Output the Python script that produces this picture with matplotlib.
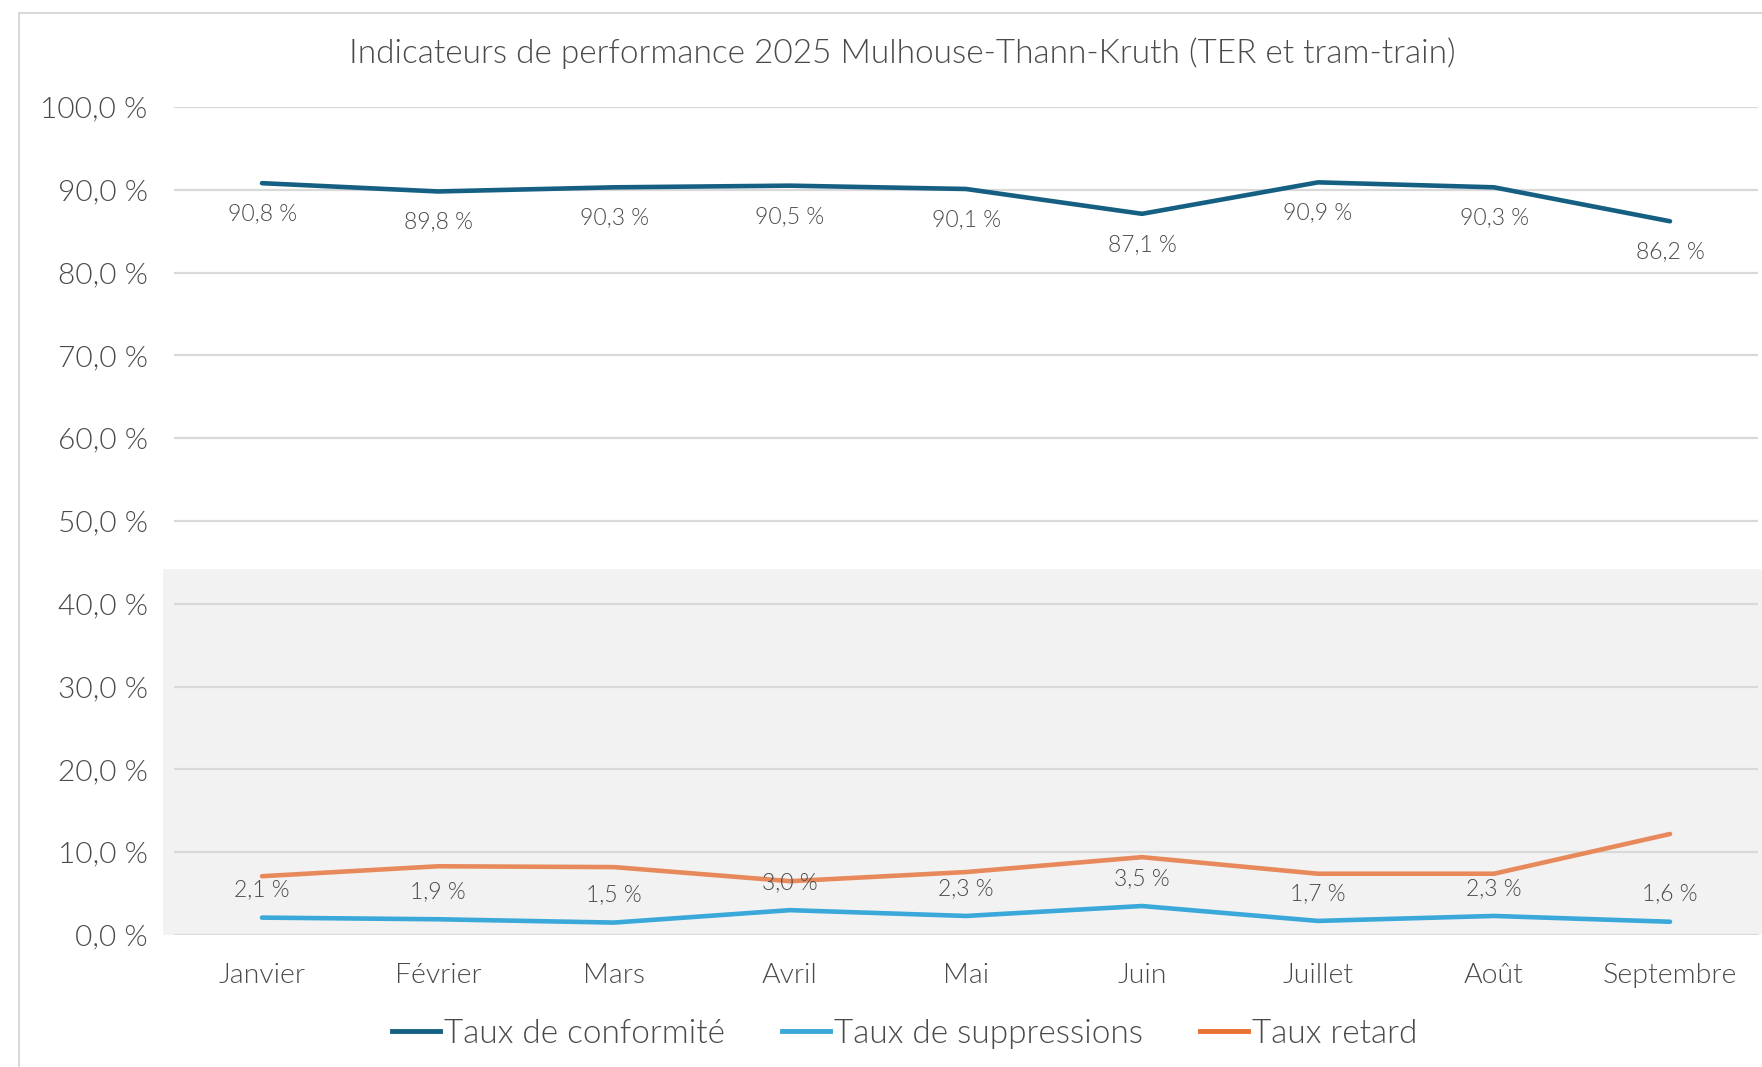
import matplotlib.pyplot as plt
from matplotlib.patches import Rectangle
from matplotlib.lines import Line2D

# Données
mois = ["Janvier", "Février", "Mars", "Avril", "Mai", "Juin", "Juillet", "Août", "Septembre"]
conformite = [90.8, 89.8, 90.3, 90.5, 90.1, 87.1, 90.9, 90.3, 86.2]
suppressions = [2.1, 1.9, 1.5, 3.0, 2.3, 3.5, 1.7, 2.3, 1.6]
retard = [7.1, 8.3, 8.2, 6.5, 7.6, 9.4, 7.4, 7.4, 12.2]
yticks = [0, 10, 20, 30, 40, 50, 60, 70, 80, 90, 100]

c_conf = "#156082"
c_supp = "#3AA8D8"
c_ret = "#E8895C"
gris_txt = "#4A4A4A"

plt.rcParams["font.family"] = ["Lato", "DejaVu Sans"]
plt.rcParams["font.weight"] = 300

W, H = 1762, 1067
fig = plt.figure(figsize=(W / 100, H / 100), dpi=100)

# cadre extérieur (coupé à droite et en bas)
fig.patches.append(Rectangle((19 / W, -0.05), 1.2, (H - 13) / H + 0.05, transform=fig.transFigure,
                             fill=False, edgecolor="#D9D9D9", lw=1.5, zorder=-2))
# bandeau gris en bas
fig.patches.append(Rectangle((163 / W, 132 / H), 1.0, (935 - 569) / H, transform=fig.transFigure,
                             facecolor="#F2F2F2", edgecolor="none", zorder=-1))

ax = fig.add_axes([174 / W, 132 / H, (1758 - 174) / W, (935 - 107) / H])
ax.set_facecolor("none")
x = range(len(mois))

ax.plot(x, conformite, color=c_conf, lw=3.3, solid_capstyle="round", zorder=3)
ax.plot(x, suppressions, color=c_supp, lw=3.3, solid_capstyle="round", zorder=3)
ax.plot(x, retard, color=c_ret, lw=3.3, solid_capstyle="round", zorder=3)

def fmt(v):
    return f"{v:.1f}".replace(".", ",") + " %"

for i, v in enumerate(conformite):
    ax.annotate(fmt(v), (i, v), xytext=(0, -22), textcoords="offset points",
                ha="center", va="center", fontsize=16.5, color=gris_txt, zorder=4)
for i, v in enumerate(suppressions):
    ax.annotate(fmt(v), (i, v), xytext=(0, 20), textcoords="offset points",
                ha="center", va="center", fontsize=16.5, color=gris_txt, zorder=4)

ax.set_xlim(-0.5, len(mois) - 0.5)
ax.set_ylim(0, 100)
ax.set_yticks(yticks)
ax.set_yticklabels([fmt(v) for v in yticks], fontsize=21.5)
ax.set_xticks(list(x))
ax.set_xticklabels(mois, fontsize=20.5)
ax.tick_params(length=0, colors=gris_txt)
ax.tick_params(axis="y", pad=19)
ax.tick_params(axis="x", pad=20)
ax.grid(axis="y", color="#D9D9D9", lw=1.6, zorder=0)
for s in ax.spines.values():
    s.set_visible(False)

fig.text(902 / W, 1 - 53 / H, "Indicateurs de performance 2025 Mulhouse-Thann-Kruth (TER et tram-train)",
         ha="center", va="center", fontsize=24, color=gris_txt)

handles = [Line2D([0], [0], color=c_conf, lw=3.5),
           Line2D([0], [0], color=c_supp, lw=3.5),
           Line2D([0], [0], color="#E97132", lw=3.5)]
fig.legend(handles, ["Taux de conformité", "Taux de suppressions", "Taux retard"],
           loc="center", bbox_to_anchor=(905 / W, 33 / H), ncol=3, frameon=False,
           fontsize=24, labelcolor=gris_txt, handlelength=1.45, handletextpad=0.12,
           columnspacing=1.7)

fig.savefig("out.png", dpi=100)
